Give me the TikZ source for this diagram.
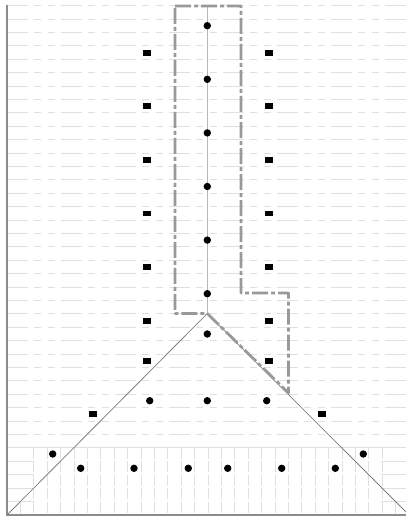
\documentclass[tikz,border=0pt]{standalone}
\begin{document}
\begin{tikzpicture}[x=1pt,y=-1pt,
  bgline/.style={draw=black!12, line width=0.9pt, dash pattern=on 21pt off 6pt on 7pt off 6.5pt on 7pt off 6.5pt},
  gridline/.style={draw=black!12, line width=0.9pt},
  vgrid/.style={draw=black!12, line width=0.9pt, dash pattern=on 11pt off 2.4pt},
  axisline/.style={draw=black!45, line width=1.5pt},
  triline/.style={draw=black!50, line width=0.8pt},
  centerline/.style={draw=black!28, line width=0.8pt},
  outline/.style={draw=black!40, line width=2.8pt, dash pattern=on 16pt off 3pt on 4pt off 3pt, line join=round},
  dot/.style={circle, fill=black, inner sep=0pt, minimum size=7.4pt},
  sq/.style={rectangle, fill=black, inner sep=0pt, minimum width=8pt, minimum height=5.8pt},
]
\useasboundingbox (0,0) rectangle (406,516);
% background dashed rows
\foreach \k in {0,...,32} \draw[bgline] (7,{5.7+13.4*\k}) -- (406,{5.7+13.4*\k});
% lower grid
\draw[gridline] (7,447.9) -- (406,447.9);
\foreach \k in {34,...,37} {
  \draw[gridline] (7,{5.7+13.4*\k}) -- (33.8,{5.7+13.4*\k});
  \draw[gridline] (381.2,{5.7+13.4*\k}) -- (406,{5.7+13.4*\k});
}
\foreach \k in {2,...,28} \draw[vgrid] ({7+13.4*\k},447.9) -- ({7+13.4*\k},515);
\draw[gridline] (20.4,501.7) -- (20.4,515);
\draw[gridline] (395.6,501.7) -- (395.6,515);
% axes
\coordinate (tl) at (7,5);
\coordinate (bl) at (7,515);
\coordinate (brc) at (406,515);
\draw[axisline] (tl) -- (bl) -- (brc);
% triangle and centre line
\coordinate (apex) at (207.3,313.5);
\coordinate (br) at (406,512);
\coordinate (ctop) at (207.3,6);
\draw[centerline] (ctop) -- (apex);
\draw[triline] (bl) -- (apex) -- (br);
% dash-dot outline
\coordinate (o1) at (175,6);
\coordinate (o2) at (241,6);
\coordinate (o3) at (241,293);
\coordinate (o4) at (288.5,293);
\coordinate (o5) at (288.5,393);
\coordinate (o6) at (175,313.5);
\draw[outline] (o1) -- (o2) -- (o3) -- (o4) -- (o5) -- (apex) -- (o6) -- cycle;
% squares
\foreach \y [count=\i] in {52.7,106.3,159.9,213.5,267.1,320.7,360.7} {
  \node[sq] (sl\i) at (147,\y) {};
  \node[sq] (sr\i) at (269,\y) {};
}
\node[sq] (sl8) at (93.3,414.3) {};
\node[sq] (sr8) at (322.3,414.3) {};
% dots
\foreach \y [count=\i] in {25.7,79.3,132.9,186.5,240.1,293.7,334} {
  \node[dot] (c\i) at (207.3,\y) {};
}
\node[dot] (d1) at (149.7,400.7) {};
\node[dot] (d2) at (207.3,400.7) {};
\node[dot] (d3) at (266.7,400.7) {};
\node[dot] (e1) at (52.7,454) {};
\node[dot] (e2) at (363.3,454) {};
\foreach \x [count=\i] in {80.7,134,188.3,227.7,281.7,335.3} {
  \node[dot] (f\i) at (\x,468.3) {};
}
\end{tikzpicture}
\end{document}
